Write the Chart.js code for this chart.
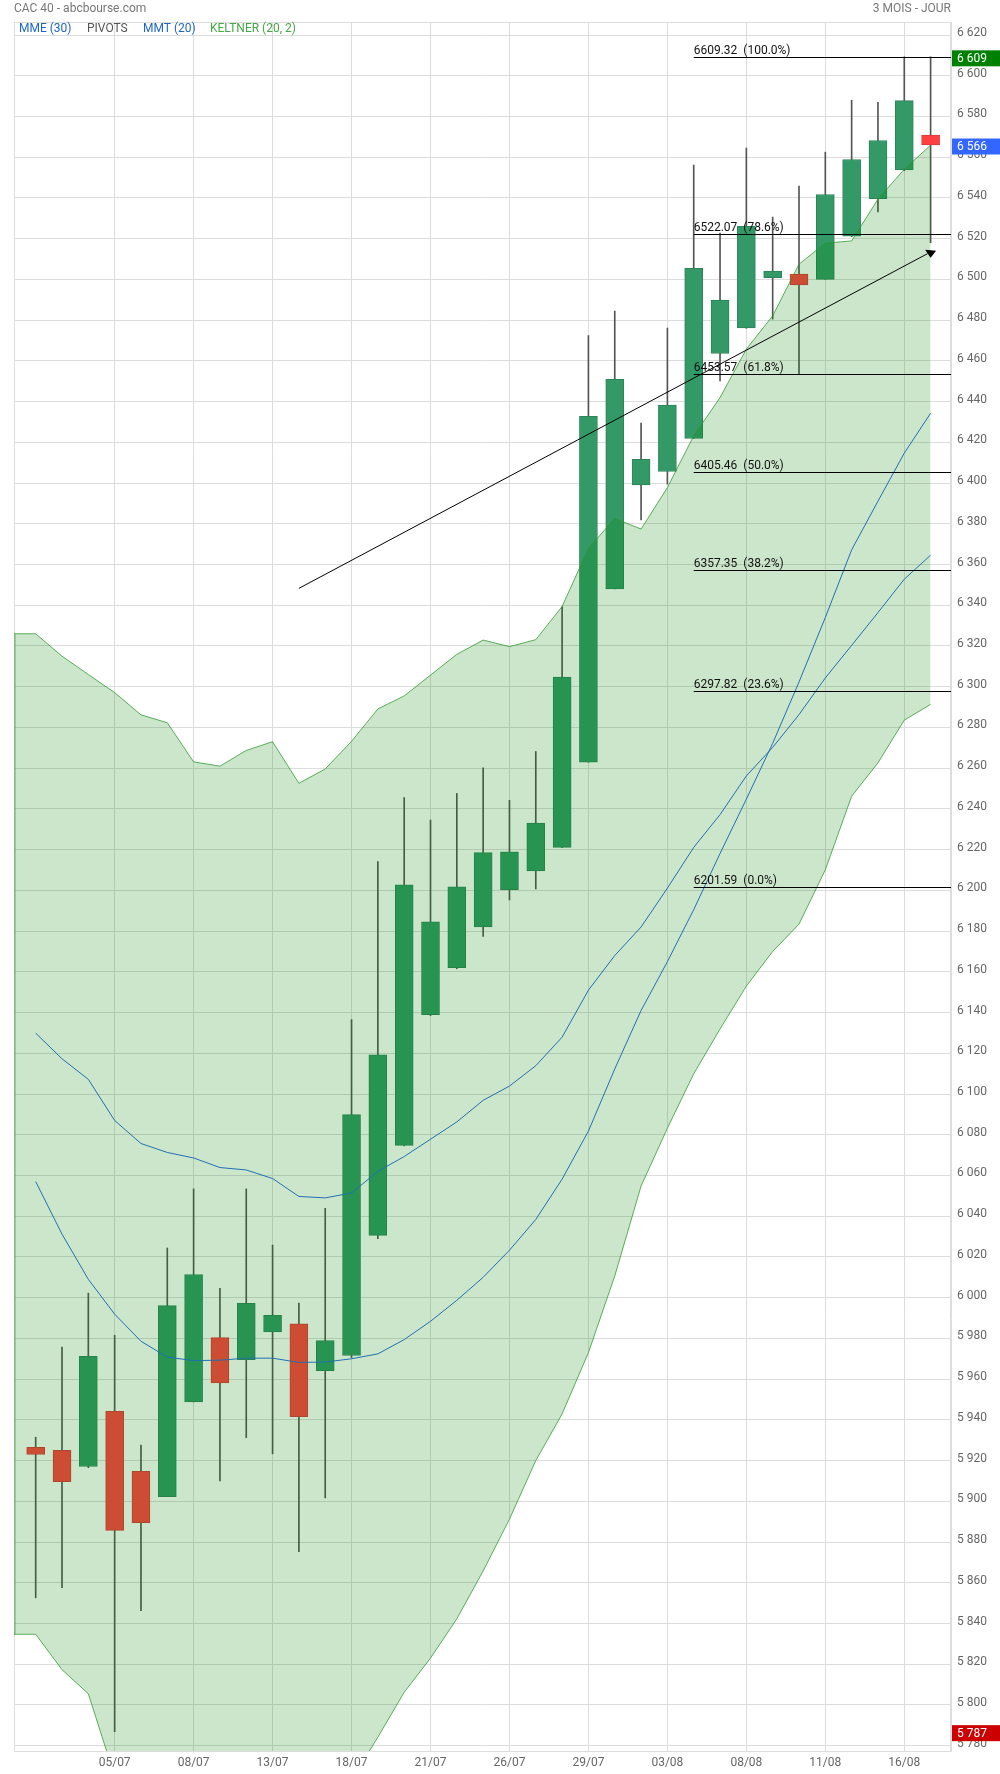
<!DOCTYPE html>
<html>
<head>
<meta charset="utf-8">
<script src="https://cdn.jsdelivr.net/npm/chart.js@4.4.0/dist/chart.umd.min.js"></script>
<style>
  html, body { margin: 0; padding: 0; background: #fff; }
  canvas { display: block; }
</style>
</head>
<body>
<canvas id="cac" width="1000" height="1774"></canvas>
<script>
// CAC 40 daily candles (3 mois - jour)
const openP  = [5926.5, 5925.0, 5917.1, 5944.2, 5914.7, 5902.3, 5948.8, 5980.4, 5969.5, 5983.2, 5987.2, 5964.2,
                5971.6, 6030.6, 6074.8, 6139.0, 6162.0, 6182.0, 6200.3, 6209.5, 6221.1, 6263.0, 6348.0, 6399.1,
                6405.7, 6421.9, 6463.6, 6476.2, 6500.8, 6502.6, 6500.0, 6521.2, 6539.7, 6553.8, 6570.9];
const closeP = [5923.0, 5909.7, 5971.2, 5885.7, 5889.5, 5996.1, 6011.4, 5958.2, 5997.2, 5991.3, 5941.6, 5978.9,
                6089.9, 6119.3, 6202.7, 6184.6, 6201.7, 6218.5, 6218.9, 6233.1, 6304.7, 6432.8, 6450.9, 6411.6,
                6438.3, 6505.5, 6489.8, 6526.1, 6504.1, 6497.3, 6541.7, 6558.9, 6568.2, 6587.8, 6566.0];
const highP  = [5931.5, 5975.8, 6002.2, 5981.5, 5927.6, 6024.4, 6053.4, 6004.6, 6053.4, 6025.8, 5997.4, 6043.9,
                6136.6, 6214.1, 6245.6, 6234.5, 6247.6, 6260.2, 6244.2, 6268.2, 6339.4, 6472.4, 6484.4, 6429.4,
                6476.1, 6556.1, 6522.7, 6564.5, 6530.6, 6545.8, 6562.5, 6588.0, 6587.0, 6609.3, 6609.3];
const lowP   = [5852.6, 5857.6, 5916.5, 5786.9, 5846.3, 5902.3, 5948.8, 5910.0, 5931.3, 5923.3, 5875.3, 5901.7,
                5970.5, 6029.0, 6074.5, 6138.5, 6161.5, 6177.4, 6195.3, 6200.7, 6221.0, 6263.0, 6348.0, 6381.9,
                6399.5, 6421.9, 6450.2, 6476.0, 6480.5, 6453.6, 6500.0, 6521.0, 6533.2, 6553.4, 6518.0];

// indicators
const keltnerUp  = [6326.0, 6315.0, 6306.0, 6297.1, 6286.2, 6282.3, 6263.1, 6261.0, 6268.7, 6273.0, 6252.6, 6259.6,
                    6273.2, 6289.1, 6295.5, 6305.7, 6315.9, 6322.9, 6319.7, 6323.1, 6339.4, 6367.9, 6382.6, 6377.4,
                    6397.8, 6423.2, 6442.0, 6465.8, 6482.1, 6507.5, 6517.8, 6518.9, 6539.4, 6554.1, 6565.9];
const keltnerLow = [5834.7, 5817.3, 5805.5, 5765.0, 5748.0, 5742.0, 5735.0, 5733.0, 5738.0, 5742.0, 5738.0, 5748.0,
                    5763.0, 5784.2, 5806.2, 5823.0, 5842.3, 5865.8, 5891.2, 5920.0, 5942.9, 5973.0, 6010.6, 6054.8,
                    6083.2, 6109.9, 6131.9, 6153.0, 6170.0, 6183.4, 6210.1, 6246.2, 6262.6, 6283.6, 6291.3];
const mme30 = [6129.9, 6117.3, 6107.2, 6087.0, 6075.7, 6071.3, 6068.6, 6063.9, 6062.7, 6058.5, 6049.7, 6049.0,
               6051.4, 6062.0, 6069.3, 6077.8, 6086.3, 6096.9, 6103.9, 6113.9, 6127.9, 6151.0, 6168.0, 6182.0,
               6201.1, 6221.1, 6237.2, 6256.2, 6270.2, 6286.3, 6304.3, 6320.3, 6336.4, 6352.8, 6364.6];
const mmt20 = [6057.0, 6031.2, 6009.0, 5991.9, 5978.6, 5970.8, 5969.1, 5969.3, 5970.3, 5970.3, 5968.2, 5968.4,
               5970.0, 5972.4, 5979.4, 5988.4, 5998.7, 6010.0, 6023.3, 6038.4, 6058.2, 6081.8, 6112.3, 6141.0,
               6165.0, 6190.5, 6218.1, 6244.8, 6272.2, 6302.3, 6334.0, 6367.2, 6391.1, 6414.7, 6434.3];

// fibonacci retracement + trend line
const fibLevels = [6609.32, 6522.07, 6453.57, 6405.46, 6357.35, 6297.82, 6201.59];
const fibPct    = ['100.0%', '78.6%', '61.8%', '50.0%', '38.2%', '23.6%', '0.0%'];
const fibStart  = 25;
const trendFrom = [10, 6348.3];
const trendTo   = [34, 6513.4];

// axes
const xTickIndex  = [3, 6, 9, 12, 15, 18, 21, 24, 27, 30, 33];
const xTickLabels = ['05/07', '08/07', '13/07', '18/07', '21/07', '26/07', '29/07', '03/08', '08/08', '11/08', '16/08'];
const yTickMin = 5780, yTickMax = 6620, yTickStep = 20;
const xMin = -0.824, xMax = 34.775;
const yMin = 5777.4, yMax = 6626.4;

const GREEN = '#339966', RED = '#ff4040';

function fmt(v) {
  const n = Math.round(v);
  return Math.floor(n / 1000) + ' ' + String(n % 1000).padStart(3, '0');
}

const idx = openP.map((_, i) => i);
const isUp = idx.map(i => closeP[i] >= openP[i]);
const bodies = idx.map(i => ({ x: i, y: [openP[i], closeP[i]] }));
const wicks = idx.map(i => ({ x: i, y: [lowP[i], highP[i]] }));
const bandUp = [{ x: xMin, y: keltnerUp[0] }].concat(idx.map(i => ({ x: i, y: keltnerUp[i] })));
const bandLow = [{ x: xMin, y: keltnerLow[0] }].concat(idx.map(i => ({ x: i, y: keltnerLow[i] })));

const overlay = {
  id: 'overlay',
  beforeDatasetsDraw(chart) {
    const { ctx, chartArea: a } = chart;
    ctx.save();
    ctx.strokeStyle = '#dddddd';
    ctx.lineWidth = 1;
    ctx.strokeRect(a.left + 0.5, a.top + 0.5, a.right - a.left - 1, a.bottom - a.top);
    ctx.restore();
  },
  afterDatasetsDraw(chart) {
    const { ctx, chartArea: a, scales: { x, y } } = chart;
    ctx.save();

    // left edge of keltner band
    ctx.strokeStyle = 'rgba(60,160,60,0.5)';
    ctx.lineWidth = 1.5;
    ctx.beginPath();
    ctx.moveTo(a.left + 1, y.getPixelForValue(keltnerUp[0]));
    ctx.lineTo(a.left + 1, Math.min(a.bottom, y.getPixelForValue(keltnerLow[0])));
    ctx.stroke();

    // fibonacci lines
    ctx.font = '12px Roboto';
    ctx.fillStyle = '#111';
    ctx.strokeStyle = '#000';
    ctx.lineWidth = 1;
    ctx.textBaseline = 'bottom';
    ctx.textAlign = 'left';
    const px = x.getPixelForValue(fibStart);
    fibLevels.forEach((lv, i) => {
      const py = Math.round(y.getPixelForValue(lv)) + 0.5;
      ctx.beginPath();
      ctx.moveTo(px, py);
      ctx.lineTo(a.right, py);
      ctx.stroke();
      ctx.fillText(lv.toFixed(2) + '  (' + fibPct[i] + ')', px, py - 1);
    });

    // trend line with arrow
    const x1 = x.getPixelForValue(trendFrom[0]), y1 = y.getPixelForValue(trendFrom[1]);
    const x2 = x.getPixelForValue(trendTo[0]), y2 = y.getPixelForValue(trendTo[1]);
    ctx.beginPath();
    ctx.moveTo(x1, y1);
    ctx.lineTo(x2 - 3, y2 + 1.5);
    ctx.stroke();
    ctx.fillStyle = '#000';
    ctx.beginPath();
    ctx.moveTo(x2 - 5.5, y2 - 2.5);
    ctx.lineTo(x2 + 5.5, y2 - 1.5);
    ctx.lineTo(x2, y2 + 5.5);
    ctx.closePath();
    ctx.fill();
    ctx.restore();
  },
  afterDraw(chart) {
    const { ctx, chartArea: a, scales: { y } } = chart;
    ctx.save();
    ctx.font = '12px Roboto';
    ctx.textBaseline = 'middle';

    // price badges
    const badges = [
      [Math.max(...highP), '#008000'],
      [closeP[closeP.length - 1], '#3366ff'],
      [Math.min(...lowP), '#cc0000']
    ];
    badges.forEach(([v, col]) => {
      const py = y.getPixelForValue(v) + 1.5;
      ctx.fillStyle = col;
      ctx.fillRect(a.right + 1, py - 8, chart.width - a.right - 1, 16);
      ctx.fillStyle = '#fff';
      ctx.textAlign = 'left';
      ctx.fillText(fmt(v), a.right + 6, py + 0.5);
    });

    // header
    ctx.fillStyle = '#777';
    ctx.textAlign = 'left';
    ctx.fillText('CAC 40 - abcbourse.com', 14, 9);
    ctx.textAlign = 'right';
    ctx.fillText('3 MOIS - JOUR', a.right, 9);

    // indicator legend row
    ctx.textAlign = 'left';
    const legend = [['MME (30)', '#1f66c4', 19], ['PIVOTS', '#555', 87], ['MMT (20)', '#1f66c4', 143], ['KELTNER (20, 2)', '#44a844', 210]];
    legend.forEach(([t, col, lx]) => {
      ctx.fillStyle = col;
      ctx.fillText(t, lx, a.top + 6.5);
    });
    ctx.restore();
  }
};

Chart.defaults.font.family = 'Roboto';
Chart.defaults.font.size = 12;
Chart.defaults.color = '#666';

new Chart(document.getElementById('cac'), {
  type: 'bar',
  data: {
    datasets: [
      {
        type: 'line', label: 'MME (30)', data: idx.map(i => ({ x: i, y: mme30[i] })),
        borderColor: '#1f6fb2', borderWidth: 1, pointRadius: 0, fill: false, order: 1
      },
      {
        type: 'line', label: 'MMT (20)', data: idx.map(i => ({ x: i, y: mmt20[i] })),
        borderColor: '#1f6fb2', borderWidth: 1, pointRadius: 0, fill: false, order: 1
      },
      {
        type: 'line', label: 'Keltner haut', data: bandUp,
        borderColor: 'rgba(40,150,40,0.75)', borderWidth: 1, pointRadius: 0, fill: false, order: 3
      },
      {
        type: 'line', label: 'Keltner bas', data: bandLow,
        borderColor: 'rgba(40,150,40,0.75)', borderWidth: 1, pointRadius: 0,
        backgroundColor: 'rgba(0,128,0,0.2)', fill: '-1', order: 3
      },
      {
        label: 'Corps', data: bodies, grouped: false, barThickness: 18,
        backgroundColor: idx.map(i => isUp[i] ? GREEN : RED),
        borderColor: idx.map(i => isUp[i] ? '#2b8559' : '#d83838'),
        borderWidth: 1, borderSkipped: false, order: 4
      },
      {
        label: 'Meches', data: wicks, grouped: false, barThickness: 1,
        backgroundColor: '#555', borderWidth: 0, order: 5
      }
    ]
  },
  options: {
    responsive: false,
    animation: false,
    devicePixelRatio: 1,
    layout: { padding: { top: 22, left: 14, right: 0, bottom: 0 } },
    plugins: { legend: { display: false }, tooltip: { enabled: false } },
    scales: {
      x: {
        type: 'linear', min: xMin, max: xMax, offset: false,
        grid: { color: '#dddddd', offset: false, drawTicks: false },
        border: { color: '#dddddd' },
        afterBuildTicks: s => { s.ticks = xTickIndex.map(v => ({ value: v })); },
        afterFit: s => { s.height = 23; },
        ticks: {
          autoSkip: false, maxRotation: 0, padding: 5, color: '#666',
          callback: v => xTickLabels[xTickIndex.indexOf(v)] || ''
        }
      },
      y: {
        position: 'right', min: yMin, max: yMax,
        grid: { color: '#dddddd', drawTicks: false },
        border: { color: '#dddddd' },
        afterBuildTicks: s => {
          const t = [];
          for (let v = yTickMin; v <= yTickMax; v += yTickStep) t.push({ value: v });
          s.ticks = t;
        },
        afterFit: s => { s.width = 49; },
        ticks: { autoSkip: false, padding: 6, labelOffset: -2, color: '#666', callback: v => fmt(v) }
      }
    }
  },
  plugins: [overlay]
});
</script>
</body>
</html>
